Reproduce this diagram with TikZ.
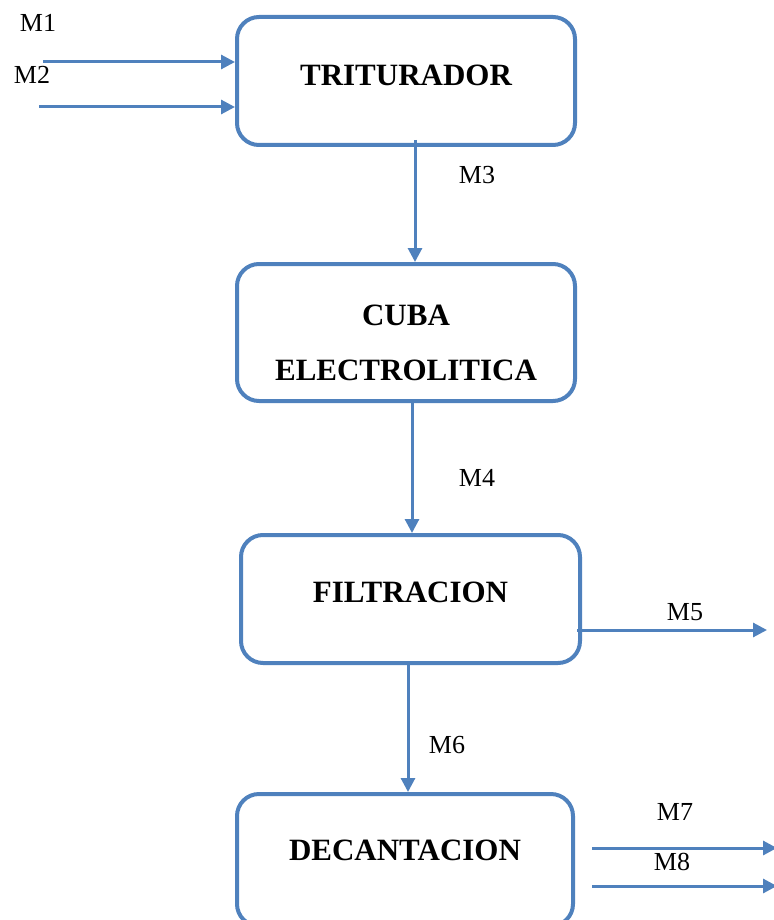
\documentclass[tikz,border=0pt]{standalone}
\usepackage{fontspec}
\setmainfont{Liberation Serif}
\usetikzlibrary{arrows.meta, positioning}
\definecolor{boxblue}{RGB}{79,129,189}

\begin{document}
\begin{tikzpicture}[
    x=1pt, y=-1pt,
    box/.style={rectangle, draw=boxblue, line width=4pt, rounded corners=22pt, minimum width=338pt, minimum height=128pt, align=center, font=\fontsize{31}{55}\selectfont\bfseries},
    flow/.style={-{Triangle[length=14pt,width=14pt]}, draw=boxblue, line width=3pt},
    lbl/.style={font=\fontsize{26}{30}\selectfont, inner sep=0pt}
]
\useasboundingbox (0,0) rectangle (773,920);

% Boxes
\node[box, text depth=12pt] (tri) at (406,81) {TRITURADOR};
\node[box, minimum height=137pt, text height=95.5pt, text depth=0pt] (cuba) at (406,332.5) {CUBA\\ELECTROLITICA};
\node[box, minimum width=339pt, text depth=14pt] (filt) at (410.5,599) {FILTRACION};
\node[box, minimum width=336pt, minimum height=132pt, text depth=20pt] (deca) at (405,860) {DECANTACION};

% Free ends
\coordinate (in1) at (43,62);
\coordinate (in2) at (39,107);
\coordinate (out5) at (767,630);
\coordinate (out7) at (777,848);
\coordinate (out8) at (777,886);

% Arrows
\draw[flow] (in1) -- (in1 -| tri.west);
\draw[flow] (in2) -- (in2 -| tri.west);
\draw[flow] ([xshift=9pt,yshift=7pt]tri.south) -- ([xshift=9pt]cuba.north);
\draw[flow] ([xshift=6pt]cuba.south) -- ([xshift=6pt]cuba.south |- filt.north);
\draw[flow] ([xshift=-5pt,yshift=-31pt]filt.east) -- (out5);
\draw[flow] ([xshift=-2.5pt]filt.south) -- ([xshift=-2.5pt]filt.south |- deca.north);
\draw[flow] ([xshift=17pt,yshift=12pt]deca.east) -- (out7);
\draw[flow] ([xshift=17pt,yshift=-26pt]deca.east) -- (out8);

% Labels
\node[lbl] (m1) at (38,23) {M1};
\node[lbl] (m2) at (32,75) {M2};
\node[lbl] (m3) at (477,175) {M3};
\node[lbl] (m4) at (477,478) {M4};
\node[lbl] (m5) at (685,612) {M5};
\node[lbl] (m6) at (447,745) {M6};
\node[lbl] (m7) at (675,812) {M7};
\node[lbl] (m8) at (672,862) {M8};

\end{tikzpicture}
\end{document}
